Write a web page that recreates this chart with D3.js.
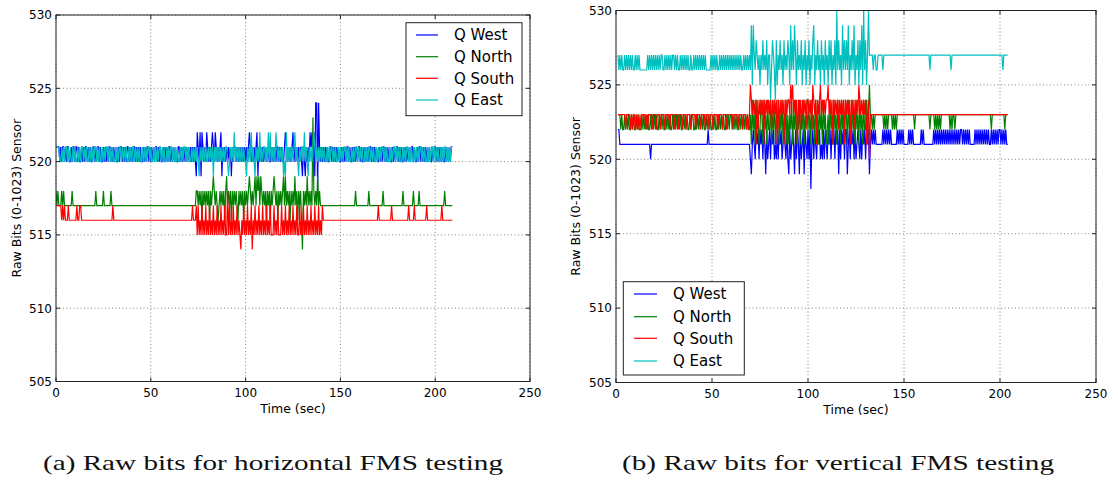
<!DOCTYPE html>
<html>
<head>
<meta charset="utf-8">
<script src="https://cdn.jsdelivr.net/npm/d3@7"></script>
<style>
  html, body { margin: 0; padding: 0; background: #fff; }
  svg { display: block; }
</style>
</head>
<body>
<svg id="chart" width="1118" height="480"></svg>
<script>
// ---------------- DATA ----------------
const timeStepSec = 0.5;           // sampling step of the sensor logs
const startTimeA = 0;              // first sample of panel (a)
const startTimeB = 1;              // first sample of panel (b)
const xTicks = [0, 50, 100, 150, 200, 250];
const yTicks = [505, 510, 515, 520, 525, 530];
const seriesNames = ["Q West", "Q North", "Q South", "Q East"];
const captions = ["(a) Raw bits for horizontal FMS testing", "(b) Raw bits for vertical FMS testing"];

// Each string is 10 s of samples (every 0.5 s); a digit is the offset from the series base value.
const baseWestA = 519;
const westA = [
  "22221212212122112122","12212112121221212112","21212212112121212212","12121121221212122121",
  "21221212121121212212","12121221212112121212","21212121122121212121","21212121032130321213",
  "21212321321212302121","21212021221212121212","12123212121230212121","21212112121212212121",
  "12321212123121212121","0210212132313055/521","21212121122121212121","12121212212112121212",
  "21211212121221212121","12121221212121121212","21212112121212122121","12122121212121211212",
  "2121212121121212122"];
const baseNorthA = 514;
const northA = [
  "43433343433333333433","33333333333333333333","33433333334333333343","33333333333333333333",
  "33333333333333333333","33333333333333333333","33333333333333333333","33333333443434243434",
  "34243454343234343424","53434243434324343424","34345434345354535434","34243424345434243434",
  "53534342434353424342","04343534343943435343","33333333333333333333","33333333333333334333",
  "33333333334333333333","33333433333333333333","33333343333333333433","33343333333333333333",
  "3333333333433333333"];
const baseSouthA = 514;
const southA = [
  "33333323232223222222","22322332222222222222","22222222222222222222","32222222222222222222",
  "22222222222222222222","22222222222222222222","22222222222222222222","22223222313121312131",
  "21312131213121312131","14131213121312102131","21312130213121312131","21312131113121311131",
  "21312131213121311312","13121312131213121312","13222222222222222222","22222222222222222222",
  "22222222222222222222","32222222222222322222","22222222222232222232","22222222222322222222",
  "2222222322222222222"];
const baseEastA = 519;
const eastA = [
  "22221121212212121121","21121212212121121212","12212121121212212121","21121212212121211212",
  "12212121211212121221","21121212122121211212","12212121211212122121","21121212121021212121",
  "12121202121212121212","21012121312121212121","10212131210212131212","21213131212132121212",
  "01031212121231210212","21312102121232121212","12121121212212121121","21212212121121212212",
  "12121121212212121121","21212212121121212212","12121121212212121121","21212212121121212212",
  "1212112121221212122"];

const baseWestB = 518;
const westB = [
  "443333333333333333","33333333333333332333","33333333333333333333","33333333333333333333",
  "33333333333333334333","33333333333333333333","33333333333333333333","21343243424342431423",
  "42434232424342343242","14234314243142341432","42403424324342324243","24342434243414243424",
  "41342434242343242434","24341343434333333343","43434343333334343434","33333434343333333343",
  "43333333333434343434","34343434343434343434","43434343433333434343","43434343433434343434",
  "434343433"];
const baseNorthB = 520;
const northB = [
  "333232232323223232","23232223232323223232","32322323232232323223","23232323223232322323",
  "32232323232322323232","23232232323232232323","32323232232323232322","31423142312431423142",
  "24132413241324132413","13241324132413241324","42314231423142314231","23142314231423142314",
  "31423142314231423142","24135332323333333332","32323333232323333333","33333333333233333333",
  "33333332333323232323","33333333232332333333","33333333333333333333","33333333333233333333",
  "333332333"];
const baseSouthB = 520;
const southB = [
  "333333332333323233","23232323333232333323","33233323333233332333","32333233323332333323",
  "33323333233332333233","32333323333233323333","33233332333323332323","54343414243434143434",
  "34243434142434341434","43545343414342434342","34342543414345343434","45343414343424343414",
  "34341434243435434343","41340333333333333333","33333333333333333333","33333333333333333333",
  "33333333333333333333","33333333333333333333","33333333333333333333","33333333333333333333",
  "333333333"];
const baseEastB = 524;
const eastB = [
  "323232232323232322","32323222222223232323","23232323322323232323","32323223232323232232",
  "23232323232323222223","23232322323232323232","32323232323223232323","25153243231324232413",
  "30243204132423142324","31524253142324132413","24132451324231423142","31424132416242315242",
  "42513242513241425162","41363333233223333323","33333333333333333333","33333333333333333333",
  "33333332333333333333","33333333323333333333","33333333333333333333","33333333333333333333",
  "333233333"];

// ---------------- DRAWING ----------------
function decode(chunks, base, t0) {
  return chunks.join("").split("").map((c, i) => ({ t: t0 + i * timeStepSec, v: c.charCodeAt(0) - 48 + base }));
}
const colors = ["#0000ff", "#008000", "#ff0000", "#00bfbf"];

const panels = [
  { x0: 56, x1: 530, y0: 15, y1: 381.5,
    series: [decode(westA, baseWestA, startTimeA), decode(northA, baseNorthA, startTimeA),
             decode(southA, baseSouthA, startTimeA), decode(eastA, baseEastA, startTimeA)],
    legend: { x: 406, y: 22.7, w: 116, h: 93, rows: [35, 56.7, 78.3, 100], lx1: 416, lx2: 438, tx: 454 },
    ylabX: 16, caption: captions[0], capX: 273, capLen: 460 },
  { x0: 616, x1: 1096, y0: 10.5, y1: 382.5,
    series: [decode(westB, baseWestB, startTimeB), decode(northB, baseNorthB, startTimeB),
             decode(southB, baseSouthB, startTimeB), decode(eastB, baseEastB, startTimeB)],
    legend: { x: 623.3, y: 281.7, w: 121, h: 93.3, rows: [294, 316.7, 338.3, 361], lx1: 634, lx2: 657, tx: 673 },
    ylabX: 575, caption: captions[1], capX: 838, capLen: 432 }
];

const svg = d3.select("#chart");
svg.append("rect").attr("width", 1118).attr("height", 480).attr("fill", "#fff");
const font = "DejaVu Sans, sans-serif";

panels.forEach((p, pi) => {
  const x = d3.scaleLinear().domain([0, 250]).range([p.x0, p.x1]);
  const y = d3.scaleLinear().domain([505, 530]).range([p.y1, p.y0]);
  const g = svg.append("g");

  const clipId = "clip" + pi;
  g.append("clipPath").attr("id", clipId).append("rect")
    .attr("x", p.x0).attr("y", p.y0).attr("width", p.x1 - p.x0).attr("height", p.y1 - p.y0);

  // grid
  const grid = g.append("g").attr("stroke", "#555").attr("stroke-width", 0.7).attr("stroke-dasharray", "1,2.5");
  xTicks.forEach(t => grid.append("line").attr("x1", x(t)).attr("x2", x(t)).attr("y1", p.y0).attr("y2", p.y1));
  yTicks.forEach(t => grid.append("line").attr("x1", p.x0).attr("x2", p.x1).attr("y1", y(t)).attr("y2", y(t)));

  // series
  const line = d3.line().x(d => x(d.t)).y(d => y(d.v));
  const lines = g.append("g").attr("clip-path", `url(#${clipId})`);
  p.series.forEach((s, si) => {
    lines.append("path").datum(s).attr("d", line).attr("fill", "none")
      .attr("stroke", colors[si]).attr("stroke-width", 1.2);
  });

  // frame
  g.append("rect").attr("x", p.x0).attr("y", p.y0).attr("width", p.x1 - p.x0).attr("height", p.y1 - p.y0)
    .attr("fill", "none").attr("stroke", "#222").attr("stroke-width", 1);

  // ticks (inside, all four sides)
  const tk = g.append("g").attr("stroke", "#222").attr("stroke-width", 1);
  xTicks.forEach(t => {
    tk.append("line").attr("x1", x(t)).attr("x2", x(t)).attr("y1", p.y1).attr("y2", p.y1 - 4);
    tk.append("line").attr("x1", x(t)).attr("x2", x(t)).attr("y1", p.y0).attr("y2", p.y0 + 4);
  });
  yTicks.forEach(t => {
    tk.append("line").attr("x1", p.x0).attr("x2", p.x0 + 4).attr("y1", y(t)).attr("y2", y(t));
    tk.append("line").attr("x1", p.x1).attr("x2", p.x1 - 4).attr("y1", y(t)).attr("y2", y(t));
  });

  // tick labels
  xTicks.forEach(t => g.append("text").attr("x", x(t)).attr("y", p.y1 + 15.5)
    .attr("text-anchor", "middle").attr("font-family", font).attr("font-size", 12).attr("fill", "#000").text(t));
  yTicks.forEach(t => g.append("text").attr("x", p.x0 - 4).attr("y", y(t)).attr("dy", "0.36em")
    .attr("text-anchor", "end").attr("font-family", font).attr("font-size", 12).attr("fill", "#000").text(t));

  // axis labels
  g.append("text").attr("x", (p.x0 + p.x1) / 2).attr("y", p.y1 + 31.5).attr("text-anchor", "middle")
    .attr("font-family", font).attr("font-size", 12.5).attr("fill", "#000").text("Time (sec)");
  g.append("text").attr("transform", `translate(${p.ylabX},${(p.y0 + p.y1) / 2}) rotate(-90)`)
    .attr("text-anchor", "middle").attr("dy", "0.36em")
    .attr("font-family", font).attr("font-size", 12.5).attr("fill", "#000").text("Raw Bits (0-1023) Sensor");

  // legend
  const L = p.legend;
  const lg = g.append("g");
  lg.append("rect").attr("x", L.x).attr("y", L.y).attr("width", L.w).attr("height", L.h)
    .attr("fill", "#fff").attr("stroke", "#222").attr("stroke-width", 1);
  seriesNames.forEach((n, i) => {
    lg.append("line").attr("x1", L.lx1).attr("x2", L.lx2).attr("y1", L.rows[i]).attr("y2", L.rows[i])
      .attr("stroke", colors[i]).attr("stroke-width", 1.2);
    lg.append("text").attr("x", L.tx).attr("y", L.rows[i]).attr("dy", "0.36em")
      .attr("font-family", font).attr("font-size", 15).attr("fill", "#000").text(n);
  });

  // caption
  svg.append("text").attr("x", p.capX).attr("y", 470).attr("text-anchor", "middle")
    .attr("font-family", "Liberation Serif, serif").attr("font-size", 21).attr("fill", "#111")
    .attr("textLength", p.capLen).attr("lengthAdjust", "spacingAndGlyphs").text(p.caption);
});
</script>
</body>
</html>
